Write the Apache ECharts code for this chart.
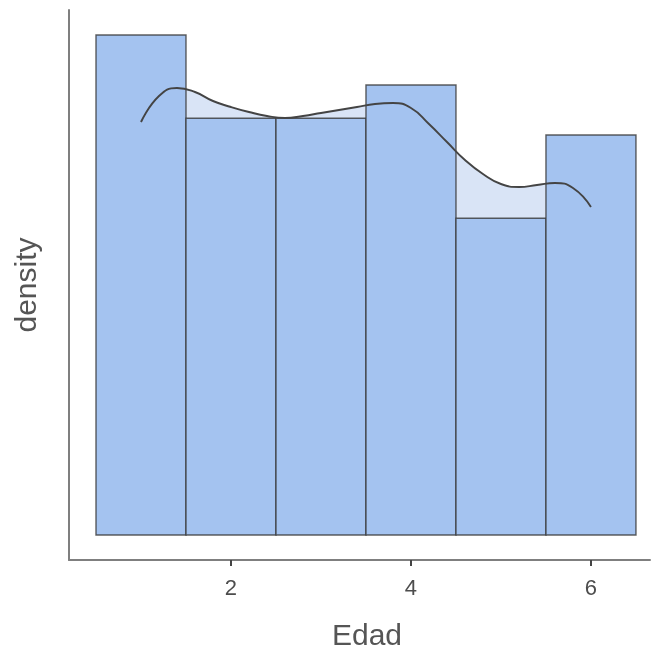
<!DOCTYPE html>
<html>
<head>
<meta charset="utf-8">
<script src="https://cdn.jsdelivr.net/npm/echarts@6/dist/echarts.min.js"></script>
<style>html,body{margin:0;padding:0;background:#fff}#c{width:651px;height:652px}</style>
</head>
<body>
<div id="c"></div>
<script>
// Histogram bins (start, end) and densities
const binStarts = [0.5, 1.5, 2.5, 3.5, 4.5, 5.5];
const binEnds   = [1.5, 2.5, 3.5, 4.5, 5.5, 6.5];
const binDensity = [0.200, 0.1667, 0.1667, 0.180, 0.1267, 0.160];

// Kernel density curve
const kdeX = [1.0,1.2,1.4,1.6,1.8,2.0,2.2,2.4,2.6,2.8,3.0,3.2,3.4,3.6,3.8,4.0,4.2,4.4,4.6,4.8,5.0,5.2,5.4,5.6,5.8,6.0];
const kdeY = [0.1652,0.1756,0.1788,0.1772,0.1736,0.1712,0.1692,0.1676,0.1668,0.1676,0.1688,0.1700,0.1712,0.1724,0.1728,0.1708,0.1644,0.1572,0.1500,0.1444,0.1404,0.1392,0.1400,0.1408,0.1388,0.1312];

const xTicks = [2, 4, 6];

const histData = binStarts.map((s, i) => [s, binEnds[i], binDensity[i]]);
const kdeData = kdeX.map((x, i) => [x, kdeY[i]]);

const chart = echarts.init(document.getElementById('c'));
const font = "'Liberation Sans', Arial, sans-serif";
chart.setOption({
  animation: false,
  grid: { left: 69, right: 1, top: 10, bottom: 92, containLabel: false, outerBoundsMode: 'none' },
  xAxis: {
    type: 'value', min: 0.2, max: 6.656,
    name: 'Edad', nameLocation: 'middle', nameGap: 62,
    nameTextStyle: { fontFamily: font, fontSize: 30, color: '#555', padding: [0, 0, 0, 15] },
    axisLine: { show: true, onZero: false, lineStyle: { color: '#7f7f7f', width: 2 } },
    axisTick: { show: true, customValues: xTicks, length: 6, lineStyle: { color: '#444', width: 2 } },
    axisLabel: { customValues: xTicks, fontFamily: font, fontSize: 22, color: '#4d4d4d', margin: 18 },
    splitLine: { show: false }
  },
  yAxis: {
    type: 'value', min: -0.01, max: 0.21,
    name: 'density', nameLocation: 'middle', nameGap: 26,
    nameTextStyle: { fontFamily: font, fontSize: 30, color: '#555' },
    axisLine: { show: true, onZero: false, lineStyle: { color: '#7f7f7f', width: 2 } },
    axisTick: { show: false },
    axisLabel: { show: false },
    splitLine: { show: false }
  },
  series: [
    {
      type: 'line', data: kdeData, smooth: true, symbol: 'none', z: 1,
      lineStyle: { opacity: 0 },
      areaStyle: { color: '#d9e4f6', opacity: 1 }
    },
    {
      type: 'custom', z: 2, data: histData,
      encode: { x: [0, 1], y: 2 },
      renderItem: function (params, api) {
        const p0 = api.coord([api.value(0), 0]);
        const p1 = api.coord([api.value(1), api.value(2)]);
        return {
          type: 'rect',
          shape: { x: p0[0], y: p1[1], width: p1[0] - p0[0], height: p0[1] - p1[1] },
          style: { fill: '#a4c3f0', stroke: 'rgba(55,55,55,0.8)', lineWidth: 1.4 }
        };
      }
    },
    {
      type: 'line', data: kdeData, smooth: true, symbol: 'none', z: 3,
      lineStyle: { color: '#444', width: 1.9 }
    }
  ]
});
</script>
</body>
</html>
